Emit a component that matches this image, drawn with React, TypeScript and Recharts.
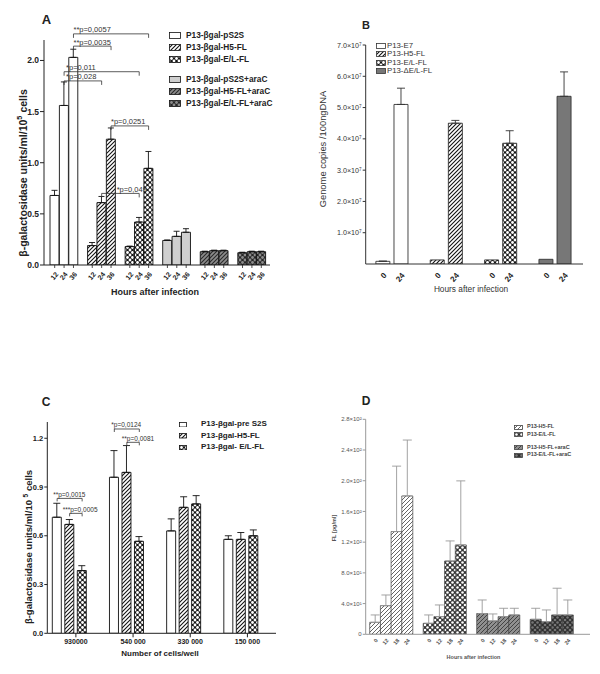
import React from "react";
import { BarChart, Bar, XAxis, YAxis, ErrorBar, Cell, ReferenceLine } from "recharts";

const FONT = '"Liberation Sans", Arial, Helvetica, sans-serif';

// ---------- A: beta-gal activity, hours after infection ----------
const hoursA = ["12", "24", "36"];
const seriesA = [
  "P13-βgal-pS2S",
  "P13-βgal-H5-FL",
  "P13-βgal-E/L-FL",
  "P13-βgal-pS2S+araC",
  "P13-βgal-H5-FL+araC",
  "P13-βgal-E/L-FL+araC",
];
const meanA = [
  [0.68, 1.56, 2.03],
  [0.19, 0.61, 1.23],
  [0.18, 0.42, 0.945],
  [0.24, 0.28, 0.32],
  [0.13, 0.14, 0.14],
  [0.12, 0.13, 0.13],
];
const semA = [
  [0.05, 0.23, 0.08],
  [0.03, 0.06, 0.11],
  [0.005, 0.045, 0.165],
  [0.005, 0.05, 0.035],
  [0.005, 0.005, 0.005],
  [0.005, 0.005, 0.005],
];
const yTicksA = [0, 0.5, 1, 1.5, 2];
// [group, hour index] at each end, bracket height in data units
const bracketsA = [
  { text: "**p=0,0057", from: [0, 2], to: [2, 2], y: 2.26, dx: 0 },
  { text: "**p=0,0035", from: [0, 2], to: [1, 2], y: 2.14, dx: 0 },
  { text: "*p=0,011", from: [0, 1], to: [2, 1], y: 1.89, dx: 2 },
  { text: "*p=0,028", from: [0, 1], to: [1, 1], y: 1.8, dx: 2 },
  { text: "*p=0,0251", from: [1, 2], to: [2, 2], y: 1.36, dx: 0 },
  { text: "*p=0,049", from: [1, 1], to: [2, 1], y: 0.7, dx: 15 },
];

// ---------- B: genome copies ----------
const hoursB = ["0", "24"];
const seriesB = ["P13-E7", "P13-H5-FL", "P13-E/L-FL", "P13-ΔE/L-FL"];
const meanB = [
  [850000, 51000000],
  [1300000, 45000000],
  [1300000, 38600000],
  [1500000, 53600000],
];
const semB = [
  [80000, 5200000],
  [0, 900000],
  [0, 4000000],
  [0, 7800000],
];
const yTicksB = [1e7, 2e7, 3e7, 4e7, 5e7, 6e7, 7e7];

// ---------- C: beta-gal vs cells per well ----------
const cellsC = ["930000", "540 000", "330 000", "150 000"];
const seriesC = ["P13-βgal-pre S2S", "P13-βgal-H5-FL", "P13-βgal- E/L-FL"];
const preS2SC = [0.714, 0.96, 0.63, 0.578];
const preS2SErrC = [0.086, 0.164, 0.074, 0.022];
const h5C = [0.67, 0.99, 0.775, 0.578];
const h5ErrC = [0.03, 0.165, 0.065, 0.042];
const elC = [0.386, 0.566, 0.796, 0.6];
const elErrC = [0.03, 0.029, 0.051, 0.036];
const yTicksC = [0, 0.3, 0.6, 0.9, 1.2];
// category index, series index at each end
const bracketsC = [
  { text: "**p=0,0015", cat: 0, from: 0, to: 2, y: 0.83, dx: -4 },
  { text: "***p=0,0005", cat: 0, from: 1, to: 2, y: 0.738, dx: -7 },
  { text: "*p=0,0124", cat: 1, from: 0, to: 2, y: 1.257, dx: -3 },
  { text: "**p=0,0081", cat: 1, from: 1, to: 2, y: 1.175, dx: -5 },
];

// ---------- D: FL pg/ml ----------
const hoursD = ["0", "12", "18", "24"];
const seriesD = ["P13-H5-FL", "P13-E/L-FL", "P13-H5-FL+araC", "P13-E/L-FL+araC"];
const meanD = [
  [15.6, 37.3, 133.8, 180.2],
  [14.3, 23, 95.5, 116.4],
  [27, 17.4, 23, 25.2],
  [19.5, 16.5, 25.2, 25.2],
];
const semD = [
  [9.6, 13.9, 85.2, 72.8],
  [10.9, 15.2, 26.1, 83.4],
  [17.7, 9.1, 10.9, 8.7],
  [14.4, 15.2, 34.8, 19.5],
];
const yTicksD = [0, 40, 80, 120, 160, 200, 240, 280];

// fills per group / series
const fillsA = ["#fff", "url(#hatch)", "url(#check)", "#cfcfcf", "url(#hatchAra)", "url(#checkAra)"];
const fillsB = ["#fff", "url(#hatch)", "url(#check)", "#777"];
const fillsC = ["#fff", "url(#hatch)", "url(#check)"];
const fillsD = ["url(#hatchD)", "url(#checkD)", "url(#hatchAraD)", "url(#checkAraD)"];

const BAR_C = 9;
const GAP_C = 3.5;
const NBARS_C = 4; // 3 series + one empty slot, as in the original layout

type SlotRow = { id: string; group: number; v: number | null; e: [number, number] | null };

// one row per bar, with an empty row between groups
function slotRows(means: number[][], errs: number[][], hours: string[]): SlotRow[] {
  const rows: SlotRow[] = [];
  means.forEach((vals, g) => {
    if (g > 0) rows.push({ id: `s${g}`, group: -1, v: null, e: null });
    vals.forEach((v, i) =>
      rows.push({ id: `${g}-${hours[i]}`, group: g, v, e: errs[g][i] > 0 ? [0, errs[g][i]] : null })
    );
  });
  return rows;
}

function SlotTick(props: any) {
  const { x, y, payload, fs = 7, tickLen = 0, dy = 5, ink = "#222", bold = true } = props;
  const id = String(payload.value);
  if (id.startsWith("s")) return null;
  const label = id.split("-")[1];
  const tx = x + fs * 0.3;
  const ty = y + tickLen + dy;
  return (
    <g>
      {tickLen > 0 && <line x1={x} x2={x} y1={y} y2={y + tickLen} stroke={ink} strokeWidth={0.8} />}
      <text
        x={tx}
        y={ty}
        textAnchor="end"
        dominantBaseline="central"
        fontSize={fs}
        fontWeight={bold ? 700 : 400}
        fill={ink}
        fontFamily={FONT}
        transform={`rotate(-50 ${tx} ${ty})`}
      >
        {label}
      </text>
    </g>
  );
}

function BracketMark(props: any) {
  const { x1, x2, y1, text, dx = 0, off1 = 0, off2 = 0, drop = 4, fs = 7.5, ink = "#333" } = props;
  const left = Math.min(x1, x2) + off1;
  const right = Math.max(x1, x2) + off2;
  return (
    <g>
      <path d={`M${left},${y1 + drop}V${y1}H${right}V${y1 + drop}`} fill="none" stroke={ink} strokeWidth={0.8} />
      <text x={left + dx} y={y1 - 1.5} fontSize={fs} fill={ink} fontFamily={FONT}>
        {text}
      </text>
    </g>
  );
}

function Patterns() {
  const dots = (s: number, r: number, c: string) =>
    [
      [0, 0],
      [s, 0],
      [0, s],
      [s, s],
      [s / 2, s / 2],
    ].map(([cx, cy], i) => <circle key={i} cx={cx} cy={cy} r={r} fill={c} />);
  const hatch = (id: string, bg: string, ink: string, w: number) => (
    <pattern id={id} width={4} height={4} patternUnits="userSpaceOnUse">
      <rect width={4} height={4} fill={bg} />
      <path d="M-1,1 l2,-2 M0,4 l4,-4 M3,5 l2,-2" stroke={ink} strokeWidth={w} />
    </pattern>
  );
  const check = (id: string, bg: string, hole: string, s: number, r: number) => (
    <pattern id={id} width={s} height={s} patternUnits="userSpaceOnUse">
      <rect width={s} height={s} fill={bg} />
      {dots(s, r, hole)}
    </pattern>
  );
  return (
    <svg width={0} height={0} style={{ position: "absolute" }}>
      <defs>
        {hatch("hatch", "#fff", "#111", 1.1)}
        {hatch("hatchAra", "#8c8c8c", "#2a2a2a", 1.1)}
        {check("check", "#151515", "#fff", 5, 1.4)}
        {check("checkAra", "#262626", "#8c8c8c", 5, 1.4)}
        {hatch("hatchD", "#fff", "#555", 0.9)}
        {hatch("hatchAraD", "#909090", "#3a3a3a", 0.9)}
        {check("checkD", "#333", "#fff", 5, 1.3)}
        {check("checkAraD", "#2e2e2e", "#777", 5, 1.3)}
      </defs>
    </svg>
  );
}

function Txt({ x, y, size, bold = true, ink = "#222", rotate = 0, children }: any) {
  return (
    <div
      style={{
        position: "absolute",
        left: x,
        top: y,
        transform: `translate(-50%, -50%) rotate(${rotate}deg)`,
        fontSize: size,
        fontWeight: bold ? 700 : 400,
        color: ink,
        whiteSpace: "nowrap",
        lineHeight: 1,
      }}
    >
      {children}
    </div>
  );
}

function SwatchLegend({ left, top, labels, fills, step, gapAfter = 99, gap = 0, sw, sh, textLeft, fs, bold = true, ink = "#222", stroke = "#111" }: any) {
  return (
    <>
      {labels.map((lab: string, i: number) => {
        const cy = top + i * step + (i >= gapAfter ? gap : 0);
        return (
          <React.Fragment key={lab}>
            <svg style={{ position: "absolute", left, top: cy - sh / 2 }} width={sw} height={sh}>
              <rect x={0.5} y={0.5} width={sw - 1} height={sh - 1} fill={fills[i]} stroke={stroke} strokeWidth={0.8} />
            </svg>
            <div
              style={{
                position: "absolute",
                left: textLeft,
                top: cy,
                transform: "translateY(-50%)",
                fontSize: fs,
                fontWeight: bold ? 700 : 400,
                color: ink,
                whiteSpace: "nowrap",
                lineHeight: 1,
              }}
            >
              {lab}
            </div>
          </React.Fragment>
        );
      })}
    </>
  );
}

function PanelA() {
  const rows = slotRows(meanA, semA, hoursA);
  return (
    <BarChart width={300} height={320} data={rows} margin={{ top: 40, right: 30, bottom: 25, left: 14 }} barCategoryGap={0}>
      <XAxis
        dataKey="id"
        interval={0}
        height={30}
        tickLine={false}
        tickSize={0}
        tickMargin={0}
        padding={{ left: 6, right: 4 }}
        stroke="#222"
        tick={<SlotTick fs={7} tickLen={3} dy={5} ink="#222" />}
      />
      <YAxis
        width={30}
        domain={[0, 2.2]}
        allowDataOverflow
        ticks={yTicksA}
        tickFormatter={(v: number) => v.toFixed(1)}
        tickSize={4}
        tickMargin={1}
        stroke="#222"
        tick={{ fontSize: 8.5, fontWeight: 700, fill: "#222" }}
      />
      <Bar dataKey="v" stroke="#111" strokeWidth={0.9} isAnimationActive={false}>
        {rows.map((r) => (
          <Cell key={r.id} fill={r.group >= 0 ? fillsA[r.group] : "none"} />
        ))}
        <ErrorBar dataKey="e" width={3} stroke="#111" strokeWidth={0.9} isAnimationActive={false} />
      </Bar>
      {bracketsA.map((b) => (
        <ReferenceLine
          key={b.text}
          ifOverflow="visible"
          segment={[
            { x: `${b.from[0]}-${hoursA[b.from[1]]}`, y: b.y },
            { x: `${b.to[0]}-${hoursA[b.to[1]]}`, y: b.y },
          ]}
          shape={(p: any) => <BracketMark {...p} text={b.text} dx={b.dx} drop={4} fs={7.5} ink="#333" />}
        />
      ))}
    </BarChart>
  );
}

function PanelB() {
  const rows = slotRows(meanB, semB, hoursB);
  return (
    <BarChart width={300} height={320} data={rows} margin={{ top: 45, right: 17, bottom: 26, left: 5.7 }} barCategoryGap="12%">
      <XAxis
        dataKey="id"
        interval={0}
        height={30}
        tickLine={false}
        tickSize={0}
        tickMargin={0}
        padding={{ left: 8, right: 10 }}
        stroke="#333"
        tick={<SlotTick fs={8} tickLen={0} dy={10} ink="#222" />}
      />
      <YAxis
        width={60}
        domain={[0, 7e7]}
        allowDataOverflow
        ticks={yTicksB}
        tickFormatter={(v: number) => `${(v / 1e7).toFixed(1)}×10⁷`}
        tickSize={3}
        tickMargin={1}
        stroke="#333"
        tick={{ fontSize: 7.2, fill: "#333" }}
      />
      <Bar dataKey="v" stroke="#333" strokeWidth={0.9} isAnimationActive={false}>
        {rows.map((r) => (
          <Cell key={r.id} fill={r.group >= 0 ? fillsB[r.group] : "none"} />
        ))}
        <ErrorBar dataKey="e" width={4} stroke="#333" strokeWidth={0.9} isAnimationActive={false} />
      </Bar>
    </BarChart>
  );
}

function PanelC() {
  const rows = cellsC.map((c, i) => ({
    cells: c,
    pre: preS2SC[i],
    preE: [0, preS2SErrC[i]],
    h5: h5C[i],
    h5E: [0, h5ErrC[i]],
    el: elC[i],
    elE: [0, elErrC[i]],
  }));
  const pitch = BAR_C + GAP_C;
  const barOffset = (s: number) => (s - (NBARS_C - 1) / 2) * pitch;
  return (
    <BarChart width={300} height={344} data={rows} margin={{ top: 92, right: 24, bottom: 20.7, left: 17.3 }} barSize={BAR_C} barGap={GAP_C}>
      <XAxis
        dataKey="cells"
        interval={0}
        height={20}
        tickSize={4}
        tickMargin={2}
        stroke="#222"
        tick={{ fontSize: 7, fontWeight: 700, fill: "#222" }}
      />
      <YAxis
        width={30}
        domain={[0, 1.3]}
        allowDataOverflow
        ticks={yTicksC}
        tickFormatter={(v: number) => v.toFixed(1)}
        tickSize={3}
        tickMargin={1}
        stroke="#222"
        tick={{ fontSize: 7.5, fontWeight: 700, fill: "#222" }}
      />
      <Bar dataKey="pre" fill={fillsC[0]} stroke="#111" strokeWidth={0.9} isAnimationActive={false}>
        <ErrorBar dataKey="preE" width={3.5} stroke="#111" strokeWidth={0.9} isAnimationActive={false} />
      </Bar>
      <Bar dataKey="h5" fill={fillsC[1]} stroke="#111" strokeWidth={0.9} isAnimationActive={false}>
        <ErrorBar dataKey="h5E" width={3.5} stroke="#111" strokeWidth={0.9} isAnimationActive={false} />
      </Bar>
      <Bar dataKey="el" fill={fillsC[2]} stroke="#111" strokeWidth={0.9} isAnimationActive={false}>
        <ErrorBar dataKey="elE" width={3.5} stroke="#111" strokeWidth={0.9} isAnimationActive={false} />
      </Bar>
      {/* empty fourth slot: the original draws each group left of its tick */}
      <Bar dataKey="none" fill="none" isAnimationActive={false} />
      {bracketsC.map((b) => (
        <ReferenceLine
          key={b.text}
          ifOverflow="visible"
          segment={[
            { x: cellsC[b.cat], y: b.y },
            { x: cellsC[b.cat], y: b.y },
          ]}
          shape={(p: any) => (
            <BracketMark {...p} text={b.text} dx={b.dx} off1={barOffset(b.from)} off2={barOffset(b.to)} drop={3} fs={6.5} ink="#333" />
          )}
        />
      ))}
    </BarChart>
  );
}

function fmtD(v: number) {
  if (v === 0) return "0";
  if (v < 100) return `${(v / 10).toFixed(1)}×10¹`;
  return `${(v / 100).toFixed(1)}×10²`;
}

function PanelD() {
  const rows = slotRows(meanD, semD, hoursD);
  return (
    <BarChart width={300} height={344} data={rows} margin={{ top: 89.3, right: 10, bottom: 19.7, left: 15.7 }} barCategoryGap={0}>
      <XAxis
        dataKey="id"
        interval={0}
        height={20}
        tickLine={false}
        tickSize={0}
        tickMargin={0}
        padding={{ left: 4, right: 17 }}
        stroke="#999"
        tick={<SlotTick fs={5.5} tickLen={0} dy={5} ink="#555" />}
      />
      <YAxis
        width={50}
        domain={[0, 280]}
        allowDataOverflow
        ticks={yTicksD}
        tickFormatter={fmtD}
        tickSize={3}
        tickMargin={1}
        stroke="#999"
        tick={{ fontSize: 6, fill: "#555" }}
      />
      <Bar dataKey="v" stroke="#444" strokeWidth={0.7} isAnimationActive={false}>
        {rows.map((r) => (
          <Cell key={r.id} fill={r.group >= 0 ? fillsD[r.group] : "none"} />
        ))}
        <ErrorBar dataKey="e" width={4.5} stroke="#999" strokeWidth={0.9} isAnimationActive={false} />
      </Bar>
    </BarChart>
  );
}

export default function App() {
  return (
    <div
      style={{
        position: "absolute",
        left: 0,
        top: 0,
        width: 600,
        height: 674,
        background: "#fff",
        fontFamily: FONT,
        overflow: "hidden",
      }}
    >
      <Patterns />
      <div style={{ position: "absolute", left: 0, top: 0 }}>
        <PanelA />
      </div>
      <div style={{ position: "absolute", left: 300, top: 0 }}>
        <PanelB />
      </div>
      <div style={{ position: "absolute", left: 0, top: 330 }}>
        <PanelC />
      </div>
      <div style={{ position: "absolute", left: 300, top: 330 }}>
        <PanelD />
      </div>

      {/* panel A text */}
      <Txt x={46.5} y={19} size={13}>A</Txt>
      <Txt x={21.7} y={172.5} size={10.5} rotate={-90}>
        β-galactosidase units/ml/10<sup style={{ fontSize: "0.7em" }}>5</sup> cells
      </Txt>
      <Txt x={155} y={292} size={9}>Hours after infection</Txt>
      <SwatchLegend left={169} top={35} labels={seriesA} fills={fillsA} step={12} gapAfter={3} gap={8} sw={12} sh={7} textLeft={186} fs={8.3} />

      {/* panel B text */}
      <Txt x={366} y={25} size={11}>B</Txt>
      <Txt x={323} y={148.5} size={9.4} bold={false} ink="#333" rotate={-90}>
        Genome copies /100ngDNA
      </Txt>
      <Txt x={471} y={289} size={8.3} bold={false} ink="#333">Hours after infection</Txt>
      <SwatchLegend left={376} top={45.7} labels={seriesB} fills={fillsB} step={8.5} sw={10} sh={6} textLeft={387} fs={7.8} bold={false} ink="#333" stroke="#333" />

      {/* panel C text */}
      <Txt x={46} y={402} size={12}>C</Txt>
      <Txt x={28} y={547} size={9.5} rotate={-90}>
        β-galactosidase units/ml/10 <sup style={{ fontSize: "0.7em" }}>5</sup> cells
      </Txt>
      <Txt x={160} y={654.3} size={8}>Number of cells/well</Txt>
      <SwatchLegend left={179} top={424.3} labels={seriesC} fills={fillsC} step={11.5} sw={8} sh={5.5} textLeft={201} fs={8} />

      {/* panel D text */}
      <Txt x={366} y={401} size={12}>D</Txt>
      <Txt x={335} y={528} size={5.5} ink="#555" rotate={-90}>FL [pg/ml]</Txt>
      <Txt x={473.5} y={658} size={5.5} ink="#555">Hours after infection</Txt>
      <SwatchLegend left={514} top={427.3} labels={seriesD} fills={fillsD} step={7.2} gapAfter={2} gap={6.2} sw={9} sh={5} textLeft={527} fs={5.5} ink="#444" stroke="#444" />
    </div>
  );
}
